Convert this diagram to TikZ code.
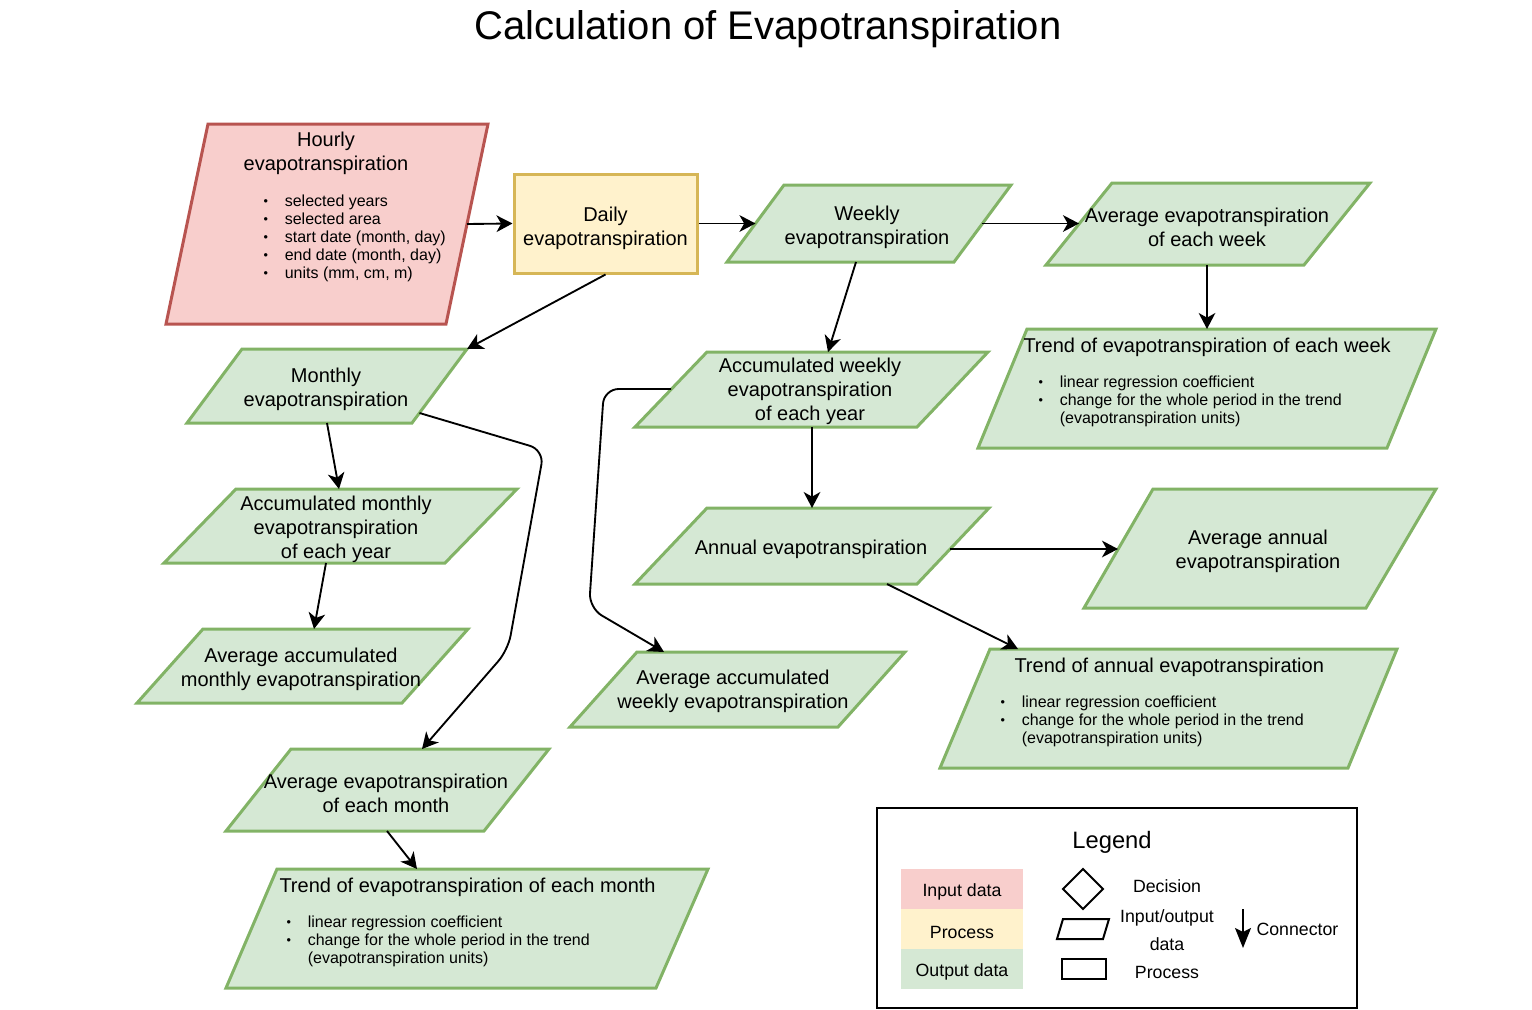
\documentclass[tikz,border=0pt]{standalone}
\usepackage{fontspec}
\setmainfont{Liberation Sans}
\usetikzlibrary{arrows.meta}

\definecolor{inFill}{HTML}{F8CECC}
\definecolor{inLine}{HTML}{B85450}
\definecolor{procFill}{HTML}{FFF2CC}
\definecolor{procLine}{HTML}{D6B656}
\definecolor{outFill}{HTML}{D5E8D4}
\definecolor{outLine}{HTML}{82B366}

\tikzset{every picture/.style={line width=0.75pt}}
\tikzset{
  indata/.style={draw=inLine, fill=inFill, line width=2.25pt},
  procdata/.style={draw=procLine, fill=procFill, line width=2.25pt},
  outdata/.style={draw=outLine, fill=outFill, line width=2.25pt},
  conn/.style={line width=1.4pt, -{Stealth[length=12pt,width=12.5pt,inset=3.5pt]}},
  mtext/.style={inner sep=0pt, align=center, font=\fontsize{15}{18}\selectfont},
  ltext/.style={inner sep=0pt, anchor=base west, font=\fontsize{12}{13.5}\selectfont},
  gtext/.style={inner sep=0pt, align=center, font=\fontsize{13.3}{16}\selectfont},
}
\newcommand{\bul}{\raisebox{0.4pt}{\fontsize{9.5}{9.5}\selectfont\textbullet}}

\begin{document}
\begin{tikzpicture}[x=0.75pt,y=0.75pt,yscale=-1,xscale=1]
    \useasboundingbox (0,0) rectangle (1532,1010);

    % Title
    \node[inner sep=0pt, font=\fontsize{30}{36}\selectfont] (title) at (768,29) {Calculation of Evapotranspiration};

    %Shape: Parallelogram - hourly input
    \draw[indata] (208,124) -- (488,124) -- (446,324) -- (166,324) -- cycle;
    \coordinate (hourlyE) at (467,224);
    % Text Node
    \node[mtext] (hourly) at (326,153.5) {Hourly\\evapotranspiration};
    \node[ltext] (hourlyList) at (263,206.5) {\begin{tabular}[t]{@{}p{16pt}@{}l@{}}
      \bul & selected years\\ \bul & selected area\\ \bul & start date (month, day)\\
      \bul & end date (month, day)\\ \bul & units (mm, cm, m)\end{tabular}};

    %Shape: Rectangle - daily process
    \node[procdata, minimum width=137.25pt, minimum height=74.25pt] (daily) at (605.5,223.5) {};
    \node[mtext] (dailyText) at (605.5,228) {Daily\\evapotranspiration};

    %Shape: Parallelogram - weekly
    \draw[outdata] (784,185) -- (1011,185) -- (954,262) -- (727,262) -- cycle;
    \coordinate (weeklyW) at (755.5,223.5);
    \coordinate (weeklyE) at (982,223.5);
    \coordinate (weeklyS) at (856,262);
    \node[mtext] (weekly) at (867,227.5) {Weekly\\evapotranspiration};

    %Shape: Parallelogram - average of each week
    \draw[outdata] (1112,183) -- (1370,183) -- (1304,265) -- (1046,265) -- cycle;
    \coordinate (avgweekW) at (1079,223.5);
    \coordinate (avgweekS) at (1207,265);
    \node[mtext] (avgweek) at (1207,227) {Average evapotranspiration\\of each week};

    %Shape: Parallelogram - trend of each week
    \draw[outdata] (1027,329) -- (1436,329) -- (1387,448) -- (978,448) -- cycle;
    \coordinate (trendweekN) at (1207,329);
    \node[mtext, anchor=west] (trendweek) at (1023,347) {Trend of evapotranspiration of each week};
    \node[ltext] (trendweekList) at (1038,387.5) {\begin{tabular}[t]{@{}p{16pt}@{}l@{}}
      \bul & linear regression coefficient\\ \bul & change for the whole period in the trend\\
      & (evapotranspiration units)\end{tabular}};

    %Shape: Parallelogram - monthly
    \draw[outdata] (242,349) -- (467,349) -- (412,423) -- (187,423) -- cycle;
    \coordinate (monthlyNE) at (467,349);
    \coordinate (monthlyE) at (419.5,413);
    \coordinate (monthlyS) at (327,423);
    \node[mtext] (monthly) at (326,389) {Monthly\\evapotranspiration};

    %Shape: Parallelogram - accumulated monthly
    \draw[outdata] (236,489) -- (517,489) -- (445,563) -- (164,563) -- cycle;
    \coordinate (accmonthlyN) at (339,489);
    \coordinate (accmonthlyS) at (326,563);
    \node[mtext] (accmonthly) at (336,529) {Accumulated monthly\\evapotranspiration\\of each year};

    %Shape: Parallelogram - average accumulated monthly
    \draw[outdata] (203,629) -- (468,629) -- (402,703) -- (137,703) -- cycle;
    \coordinate (avgaccmonthlyN) at (314,629);
    \node[mtext] (avgaccmonthly) at (301,669) {Average accumulated\\monthly evapotranspiration};

    %Shape: Parallelogram - average of each month
    \draw[outdata] (291,749) -- (549,749) -- (484,831) -- (226,831) -- cycle;
    \coordinate (avgmonthN) at (422,749);
    \coordinate (avgmonthS) at (387,831);
    \node[mtext] (avgmonth) at (386,793.5) {Average evapotranspiration\\of each month};

    %Shape: Parallelogram - trend of each month
    \draw[outdata] (277,869) -- (708,869) -- (656,988) -- (226,988) -- cycle;
    \coordinate (trendmonthN) at (417,869);
    \node[mtext, anchor=west] (trendmonth) at (279,887) {Trend of evapotranspiration of each month};
    \node[ltext] (trendmonthList) at (286,927.5) {\begin{tabular}[t]{@{}p{16pt}@{}l@{}}
      \bul & linear regression coefficient\\ \bul & change for the whole period in the trend\\
      & (evapotranspiration units)\end{tabular}};

    %Shape: Parallelogram - accumulated weekly
    \draw[outdata] (707,352) -- (988,352) -- (917,427) -- (635,427) -- cycle;
    \coordinate (accweeklyN) at (828,352);
    \coordinate (accweeklyW) at (671,389);
    \coordinate (accweeklyS) at (812,427);
    \node[mtext] (accweekly) at (810,391) {Accumulated weekly\\evapotranspiration\\of each year};

    %Shape: Parallelogram - annual
    \draw[outdata] (707,508) -- (989,508) -- (917,584) -- (635,584) -- cycle;
    \coordinate (annualN) at (812,508);
    \coordinate (annualE) at (950,549);
    \coordinate (annualS) at (887,584);
    \node[mtext] (annual) at (811,549) {Annual evapotranspiration};

    %Shape: Parallelogram - average accumulated weekly
    \draw[outdata] (637,652) -- (905,652) -- (838,727) -- (570,727) -- cycle;
    \coordinate (avgaccweeklyN) at (664,652);
    \node[mtext] (avgaccweekly) at (733,691.5) {Average accumulated\\weekly evapotranspiration};

    %Shape: Parallelogram - average annual
    \draw[outdata] (1153,489) -- (1436,489) -- (1366,608) -- (1084,608) -- cycle;
    \coordinate (avgannualW) at (1118,549);
    \node[mtext] (avgannual) at (1258,551) {Average annual\\evapotranspiration};

    %Shape: Parallelogram - trend annual
    \draw[outdata] (990,649) -- (1397,649) -- (1348,768) -- (940,768) -- cycle;
    \coordinate (trendannualN) at (1018,649);
    \node[mtext, anchor=west] (trendannual) at (1014,667) {Trend of annual evapotranspiration};
    \node[ltext] (trendannualList) at (1000,707.5) {\begin{tabular}[t]{@{}p{16pt}@{}l@{}}
      \bul & linear regression coefficient\\ \bul & change for the whole period in the trend\\
      & (evapotranspiration units)\end{tabular}};

    %Connectors
    \draw[conn] (hourlyE) -- (daily.west);
    \draw[conn] (daily.east) -- (weeklyW);
    \draw[conn] (weeklyE) -- (avgweekW);
    \draw[conn] (avgweekS) -- (trendweekN);
    \draw[conn] (weeklyS) -- (accweeklyN);
    \draw[conn] (accweeklyS) -- (annualN);
    \draw[conn] (annualE) -- (avgannualW);
    \draw[conn] (annualS) -- (trendannualN);
    \draw[conn, rounded corners=11pt] (accweeklyW) -- (604,389) -- (589,608) -- (avgaccweeklyN);
    \draw[conn] (daily.south) -- (monthlyNE);
    \draw[conn] (monthlyS) -- (accmonthlyN);
    \draw[conn, rounded corners=11pt] (monthlyE) -- (544,450) -- (508,650) -- (avgmonthN);
    \draw[conn] (accmonthlyS) -- (avgaccmonthlyN);
    \draw[conn] (avgmonthS) -- (trendmonthN);

    %Legend
    \draw[line width=1.5pt] (877,808) rectangle (1357,1008);
    \node[inner sep=0pt, font=\fontsize{17.8}{20}\selectfont] (legend) at (1112,842) {Legend};
    \fill[inFill] (901,869) rectangle (1023,909);
    \fill[procFill] (901,909) rectangle (1023,949);
    \fill[outFill] (901,949) rectangle (1023,989);
    \node[gtext] (legIn) at (962,892) {Input data};
    \node[gtext] (legProc) at (962,932) {Process};
    \node[gtext] (legOut) at (962,972) {Output data};
    \draw[line width=1.5pt] (1083,869) -- (1103,889) -- (1083,909) -- (1063,889) -- cycle;
    \draw[line width=1.5pt] (1063,919) -- (1109,919) -- (1103,939) -- (1057,939) -- cycle;
    \draw[line width=1.5pt] (1062,959) rectangle (1106,979);
    \node[gtext] (legDecision) at (1167,886) {Decision};
    \node[gtext] (legIO) at (1167,930) {Input/output\\[5pt]data};
    \node[gtext] (legProcess) at (1167,972) {Process};
    \coordinate (legA) at (1243,909);
    \coordinate (legB) at (1243,948);
    \draw[line width=1.1pt, -{Stealth[length=15pt,width=12pt,inset=3pt]}] (legA) -- (legB);
    \node[gtext, anchor=west] (legConn) at (1256,929) {Connector};

\end{tikzpicture}
\end{document}
